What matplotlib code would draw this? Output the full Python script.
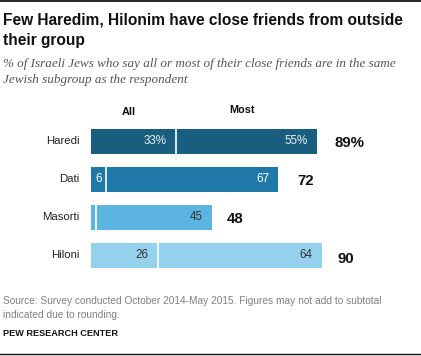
import matplotlib
matplotlib.use("Agg")
import matplotlib.pyplot as plt
from matplotlib.lines import Line2D

categories = ["Haredi", "Dati", "Masorti", "Hiloni"]
all_vals = [33, 6, 2, 26]
most_vals = [55, 67, 45, 64]
totals = [89, 72, 48, 90]
all_labels = ["33%", "6", "", "26"]
most_labels = ["55%", "67", "45", "64"]
total_labels = ["89%", "72", "48", "90"]

colors = ["#1a5e7f", "#1f78a7", "#5cb5e1", "#95d1ec"]
text_colors = ["#e8eef2", "#ffffff", "#333333", "#333333"]

W, H = 421, 356
fig = plt.figure(figsize=(W / 100, H / 100), dpi=100)

def fx(px):
    return px / W

def fy(py):
    return 1 - py / H

# axes: bar start at x=91px, 2.565 px per unit
ax_left = 91
ax_width = 100 * 2.565
ax_top = 122.5
ax_bottom = 274
ax = fig.add_axes([fx(ax_left), fy(ax_bottom), ax_width / W, (ax_bottom - ax_top) / H])
ax.set_xlim(0, 100)
ax.set_ylim(3.5, -0.5)
ax.axis("off")

ypos = list(range(len(categories)))
bar_h = 0.66
ax.barh(ypos, all_vals, height=bar_h, color=colors, edgecolor="none")
ax.barh(ypos, most_vals, left=all_vals, height=bar_h, color=colors, edgecolor="none")
# white separators
for i in ypos:
    ax.plot([all_vals[i], all_vals[i]], [i - bar_h / 2, i + bar_h / 2], color="white", lw=1.2)

total_dx = [12.5, 13.5, 11, 11.5]
total_dy = [-1, -1, -1, -3]
for i, cat in enumerate(categories):
    ax.annotate(cat, xy=(0, i), xytext=(-8, 0), textcoords="offset points",
                ha="right", va="center", fontsize=8.2, color="#222222",
                family="Liberation Sans")
    # All label
    if all_labels[i]:
        if all_vals[i] < 10:
            ax.text(all_vals[i] / 2, i, all_labels[i], ha="center", va="center",
                    fontsize=8.4, color=text_colors[i], family="Liberation Sans")
        else:
            ax.annotate(all_labels[i], xy=(all_vals[i], i), xytext=(-6.5, 0),
                        textcoords="offset points", ha="right", va="center",
                        fontsize=8.4, color=text_colors[i], family="Liberation Sans")
    end = all_vals[i] + most_vals[i]
    ax.annotate(most_labels[i], xy=(end, i), xytext=(-6.5, 0),
                textcoords="offset points", ha="right", va="center",
                fontsize=8.4, color=text_colors[i], family="Liberation Sans")
    ax.annotate(total_labels[i], xy=(end, i), xytext=(total_dx[i], total_dy[i]),
                textcoords="offset points", ha="left", va="center",
                fontsize=10.8, fontweight="bold", color="#111111",
                family="Liberation Sans")

# column headers
ax.annotate("All", xy=(all_vals[0] / 2, -0.5), xytext=(-3, 7.5),
            textcoords="offset points", ha="center", va="center",
            fontsize=7.8, fontweight="bold", color="#111111", family="Liberation Sans")
ax.annotate("Most", xy=(all_vals[0] + most_vals[0] / 2, -0.5), xytext=(-3, 9),
            textcoords="offset points", ha="center", va="center",
            fontsize=7.8, fontweight="bold", color="#111111", family="Liberation Sans")

# title & subtitle
fig.text(fx(3), fy(20), "Few Haredim, Hilonim have close friends from outside",
         ha="left", va="center", fontsize=11.2, fontweight="bold", color="#111111",
         family="Liberation Sans")
fig.text(fx(3), fy(41), "their group",
         ha="left", va="center", fontsize=11.2, fontweight="bold", color="#111111",
         family="Liberation Sans")
fig.text(fx(3), fy(64),
         "% of Israeli Jews who say all or most of their close friends are in the same",
         ha="left", va="center", fontsize=9.45, style="italic", color="#555555",
         family="Liberation Serif")
fig.text(fx(3), fy(80), "Jewish subgroup as the respondent",
         ha="left", va="center", fontsize=9.45, style="italic", color="#555555",
         family="Liberation Serif")

# source
fig.text(fx(3), fy(301), "Source: Survey conducted October 2014-May 2015. Figures may not add to subtotal",
         ha="left", va="center", fontsize=7.3, color="#808080", family="Liberation Sans")
fig.text(fx(3), fy(315), "indicated due to rounding.",
         ha="left", va="center", fontsize=7.3, color="#808080", family="Liberation Sans")
fig.text(fx(3), fy(333), "PEW RESEARCH CENTER",
         ha="left", va="center", fontsize=6.6, fontweight="bold", color="#111111",
         family="Liberation Sans")

# rules
fig.add_artist(Line2D([0, 1], [fy(1), fy(1)], color="#111111", lw=1.3))
fig.add_artist(Line2D([0, 1], [fy(354), fy(354)], color="#111111", lw=1.0))

fig.savefig("out.png", dpi=100)
